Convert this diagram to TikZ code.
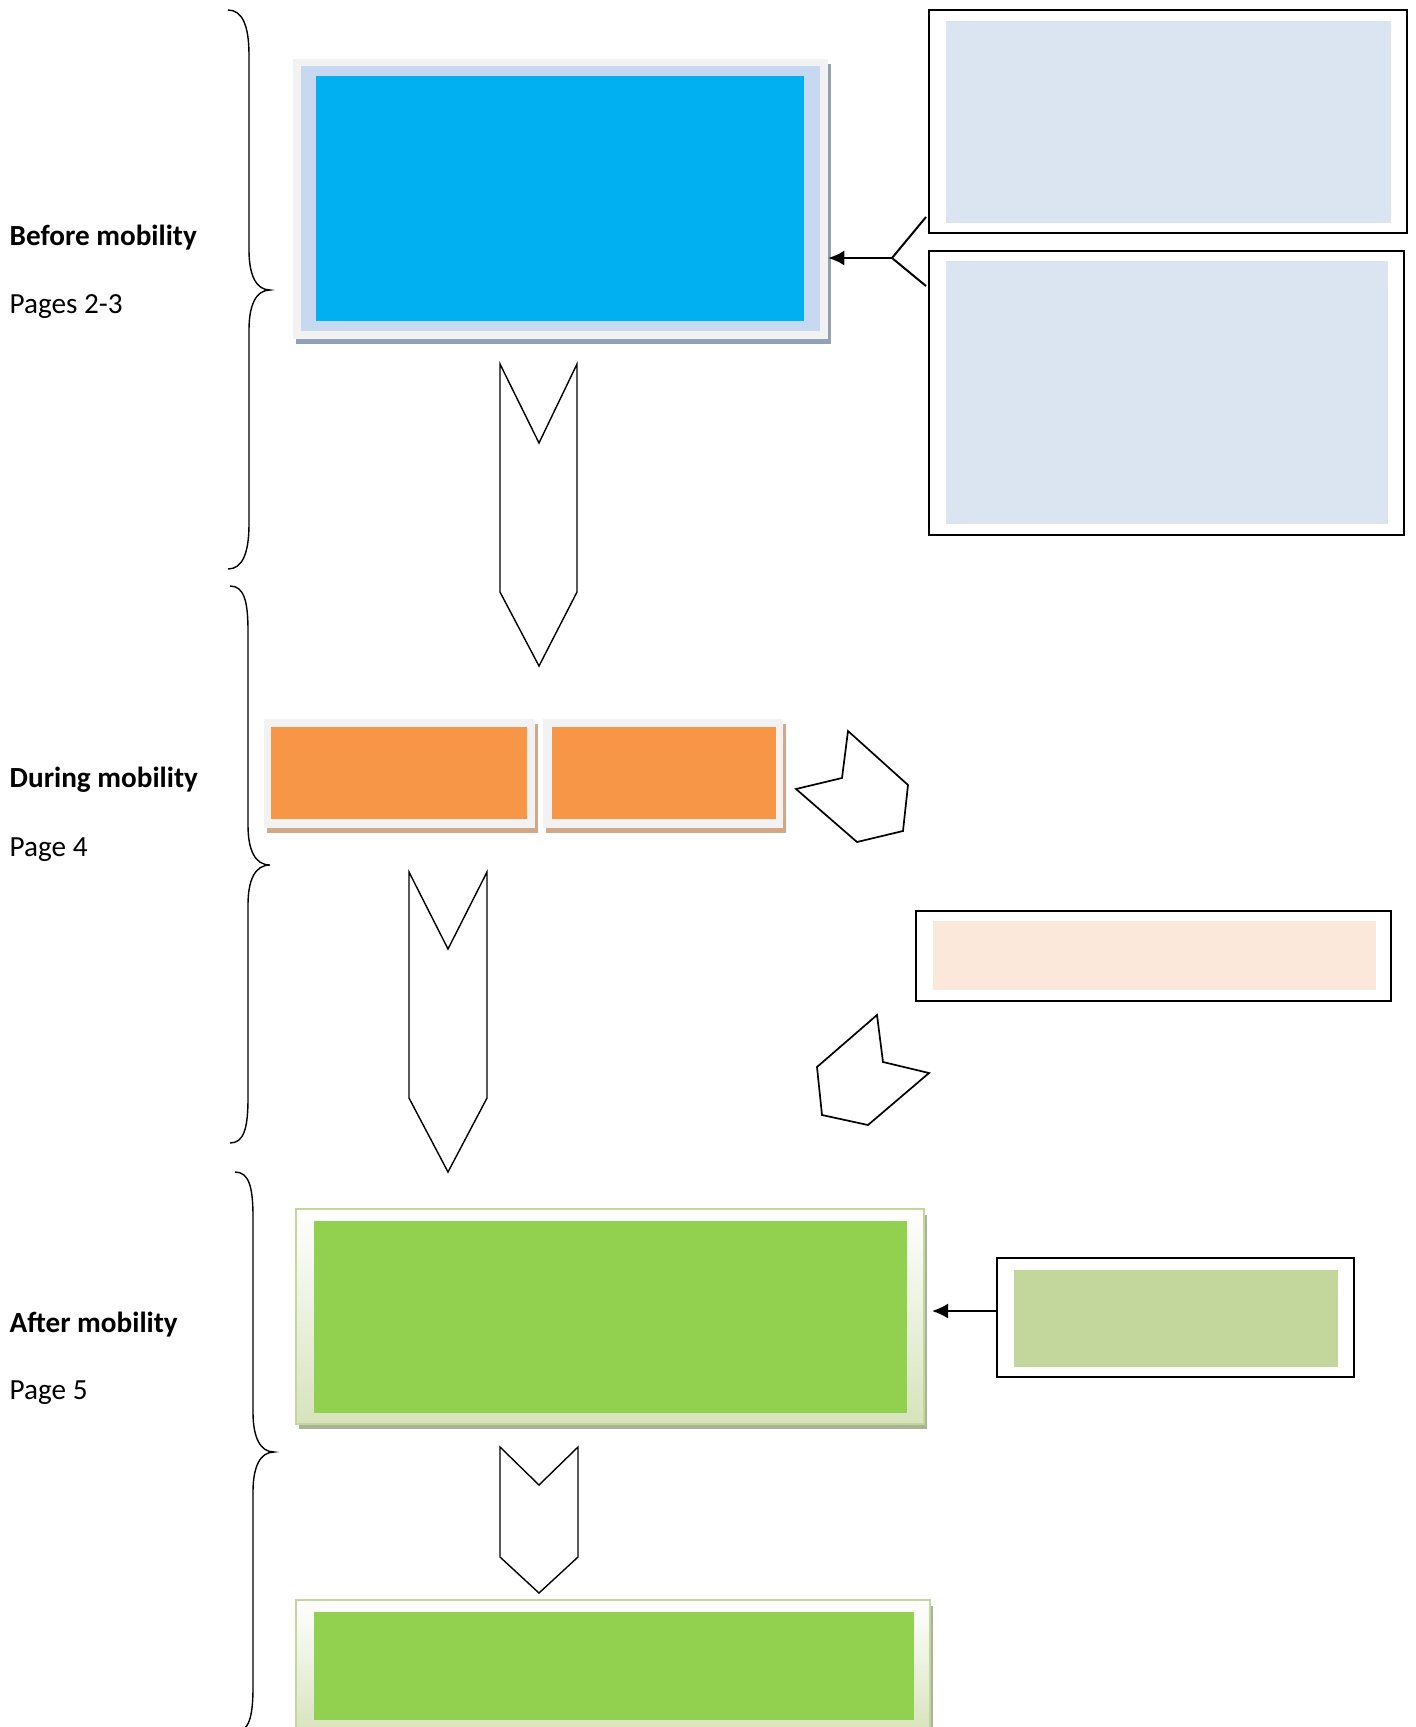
\documentclass[tikz,border=0pt]{standalone}
\usepackage{fontspec}
\setmainfont{Carlito}
\usetikzlibrary{arrows.meta}
\definecolor{frameGrey}{HTML}{F2F2F2}
\definecolor{blueShadow}{HTML}{92A1B4}
\definecolor{blueFrame}{HTML}{C6D9F1}
\definecolor{brightBlue}{HTML}{00B0F0}
\definecolor{paleBlue}{HTML}{DBE5F1}
\definecolor{orangeFill}{HTML}{F79646}
\definecolor{orangeShadow}{HTML}{D2A888}
\definecolor{peachFill}{HTML}{FBE8DA}
\definecolor{greenFill}{HTML}{92D050}
\definecolor{greenEdge}{HTML}{C3D69B}
\definecolor{greenBottom}{HTML}{D7E3BC}
\definecolor{greenShadow}{HTML}{A8B594}
\definecolor{greenLight}{HTML}{C3D69B}
\newcommand{\myBrace}[6]{%
  \draw[bracestyle] (#1,#4) .. controls ({#1+14},#4) and (#2,{#4+15}) .. (#2,{#4+45})
    -- (#2,{#5-40}) .. controls (#2,{#5-15}) and ({#2+7},#5) .. (#3,#5)
    .. controls ({#2+7},#5) and (#2,{#5+15}) .. (#2,{#5+40})
    -- (#2,{#6-45}) .. controls (#2,{#6-15}) and ({#1+14},#6) .. (#1,#6);}
\tikzset{
  rectnode/.style={rectangle, inner sep=0pt, outer sep=0pt, anchor=north west},
  blackframe/.style={rectnode, draw=black, line width=0.02cm, fill=white},
  bracestyle/.style={line width=0.014cm, black},
  chevronshape/.style={draw=black, fill=white, line width=0.014cm, line join=miter},
  pentashape/.style={draw=black, fill=white, line width=0.017cm, line join=miter},
  connector/.style={line width=0.02cm, black},
  arrowconn/.style={connector, -{Latex[length=0.16cm,width=0.15cm]}},
  label/.style={anchor=base west, inner sep=0pt, font=\fontsize{8.3pt}{10pt}\selectfont},
  greenframe/.style={rectnode, draw=greenEdge, line width=0.02cm, top color=white, bottom color=greenBottom},
}
\begin{document}
\begin{tikzpicture}[x=0.01cm, y=-0.01cm]
\useasboundingbox (0,0) rectangle (1416,1727);
\clip (0,0) rectangle (1416,1727);
\fill[white] (0,0) rectangle (1416,1727);

% braces
\myBrace{228}{249}{270}{10}{290}{569}
\myBrace{230}{248}{270}{586}{865}{1143}
\myBrace{235}{253}{274}{1172}{1452}{1732}

% labels
\node[label, font=\fontsize{8.3pt}{10pt}\selectfont\bfseries] (before) at (9,245) {Before mobility};
\node[label] (pages23) at (9,313) {Pages 2-3};
\node[label, font=\fontsize{8.3pt}{10pt}\selectfont\bfseries] (during) at (9,787) {During mobility};
\node[label] (page4) at (9,856) {Page 4};
\node[label, font=\fontsize{8.3pt}{10pt}\selectfont\bfseries] (after) at (9,1332) {After mobility};
\node[label] (page5) at (9,1399) {Page 5};

% blue box
\fill[blueShadow] (296,64) rectangle (831,344);
\node[rectnode, fill=frameGrey, minimum width=5.35cm, minimum height=2.80cm] (blueO) at (293,59) {};
\node[rectnode, fill=blueFrame, minimum width=5.19cm, minimum height=2.65cm] (blueF) at (301,66) {};
\node[rectnode, fill=brightBlue, minimum width=4.88cm, minimum height=2.45cm] (blueI) at (316,76) {};

% top right boxes
\node[blackframe, minimum width=4.78cm, minimum height=2.23cm] (boxA) at (929,10) {};
\node[rectnode, fill=paleBlue, minimum width=4.45cm, minimum height=2.02cm] (boxAi) at (946,21) {};
\node[blackframe, minimum width=4.75cm, minimum height=2.84cm] (boxB) at (929,251) {};
\node[rectnode, fill=paleBlue, minimum width=4.42cm, minimum height=2.63cm] (boxBi) at (946,261) {};

% connector to blue box
\coordinate (j1) at (892,258);
\coordinate (ja) at (926,217);
\coordinate (jb) at (926,286);
\draw[connector] (ja) -- (j1) -- (jb);
\draw[arrowconn] (j1) -- (j1 -| blueO.east);

% chevron 1
\draw[chevronshape] (500,364) -- (539,443) -- (577,364) -- (577,592) -- (539,666) -- (500,592) -- cycle;

% orange boxes
\fill[orangeShadow] (267,724) rectangle (538,833);
\node[rectnode, fill=frameGrey, minimum width=2.71cm, minimum height=1.09cm] (orA) at (264,719) {};
\node[rectnode, fill=orangeFill, minimum width=2.56cm, minimum height=0.92cm] (orAi) at (271,727) {};
\fill[orangeShadow] (546,724) rectangle (786,833);
\node[rectnode, fill=frameGrey, minimum width=2.40cm, minimum height=1.09cm] (orB) at (543,719) {};
\node[rectnode, fill=orangeFill, minimum width=2.24cm, minimum height=0.92cm] (orBi) at (552,727) {};

% pentagons
\draw[pentashape] (848,731) -- (908,785) -- (903,831) -- (857,842) -- (796,789) -- (842,778) -- cycle;
\draw[pentashape] (877,1015) -- (883,1062) -- (929,1073) -- (868,1125) -- (822,1115) -- (817,1067) -- cycle;

% peach box
\node[blackframe, minimum width=4.75cm, minimum height=0.90cm] (peach) at (916,911) {};
\node[rectnode, fill=peachFill, minimum width=4.43cm, minimum height=0.69cm] (peachi) at (933,921) {};

% chevron 2
\draw[chevronshape] (409,872) -- (448,949) -- (487,872) -- (487,1098) -- (448,1172) -- (409,1098) -- cycle;

% green box 1
\fill[greenShadow] (299,1215) rectangle (927,1429);
\node[greenframe, minimum width=6.28cm, minimum height=2.15cm] (green1) at (296,1209) {};
\node[rectnode, fill=greenFill, minimum width=5.93cm, minimum height=1.92cm] (green1i) at (314,1221) {};

% small green box
\node[blackframe, minimum width=3.57cm, minimum height=1.19cm] (greenS) at (997,1258) {};
\node[rectnode, fill=greenLight, minimum width=3.24cm, minimum height=0.97cm] (greenSi) at (1014,1270) {};
\coordinate (g1tip) at (932,1311);
\draw[arrowconn] (g1tip -| greenS.west) -- (g1tip);

% chevron 3
\draw[chevronshape] (500,1447) -- (539,1485) -- (578,1447) -- (578,1557) -- (539,1593) -- (500,1557) -- cycle;

% green box 2
\fill[greenShadow] (299,1606) rectangle (933,1740);
\node[greenframe, minimum width=6.34cm, minimum height=1.34cm] (green2) at (296,1600) {};
\node[rectnode, fill=greenFill, minimum width=6.00cm, minimum height=1.08cm] (green2i) at (314,1612) {};
\end{tikzpicture}
\end{document}
